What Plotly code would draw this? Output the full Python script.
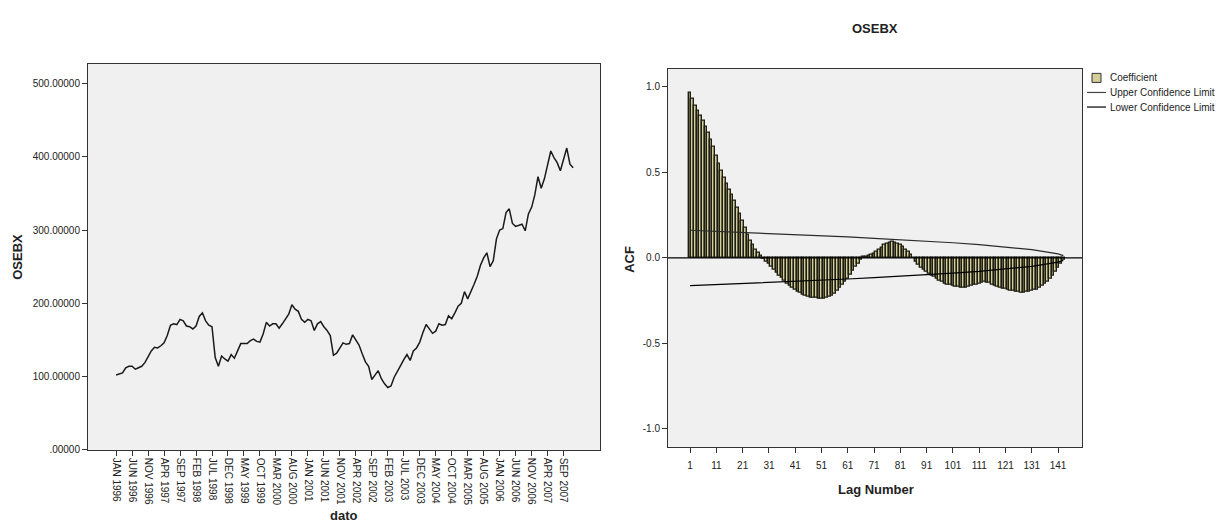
import plotly.graph_objects as go

W, H = 1228, 526
# the photographed page comes out slightly squeezed vertically; compensate
Y_SCALE = 0.9855

# ---------------- data ----------------
# OSEBX monthly values, JAN 1996 .. DEC 2007
osebx = [
    102, 104, 105, 112, 114, 114, 110, 112, 114, 119, 127, 135,
    140, 139, 142, 146, 156, 170, 172, 171, 178, 176, 169, 168,
    165, 169, 182, 187, 176, 170, 168, 126, 114, 128, 124, 121,
    130, 125, 135, 145, 145, 145, 149, 151, 148, 147, 158, 174,
    169, 172, 172, 166, 172, 178, 185, 198, 192, 189, 178, 174,
    178, 176, 163, 172, 175, 168, 163, 156, 129, 132, 139, 146,
    144, 145, 157, 149, 143, 131, 120, 114, 96, 102, 108, 97,
    90, 85, 87, 99, 108, 115, 123, 130, 122, 135, 139, 147,
    160, 171, 165, 159, 162, 172, 170, 171, 183, 179, 187, 196,
    200, 216, 206, 215, 226, 237, 252, 262, 269, 250, 258, 288,
    300, 302, 324, 329, 309, 305, 307, 308, 299, 322, 331, 348,
    373, 357, 370, 388, 408, 399, 392, 381, 397, 412, 390, 385,
]
date_tick_labels = [
    "JAN 1996", "JUN 1996", "NOV 1996", "APR 1997", "SEP 1997", "FEB 1998",
    "JUL 1998", "DEC 1998", "MAY 1999", "OCT 1999", "MAR 2000", "AUG 2000",
    "JAN 2001", "JUN 2001", "NOV 2001", "APR 2002", "SEP 2002", "FEB 2003",
    "JUL 2003", "DEC 2003", "MAY 2004", "OCT 2004", "MAR 2005", "AUG 2005",
    "JAN 2006", "JUN 2006", "NOV 2006", "APR 2007", "SEP 2007",
]
osebx_tick_vals = [0, 100, 200, 300, 400, 500]
osebx_tick_text = [".00000", "100.00000", "200.00000", "300.00000", "400.00000", "500.00000"]

# ACF coefficients, lags 1..143
acf = [
    0.967, 0.931, 0.890, 0.858, 0.830, 0.800, 0.765, 0.729, 0.688, 0.647,
    0.595, 0.550, 0.507, 0.470, 0.432, 0.398, 0.368, 0.334, 0.295, 0.256,
    0.216, 0.177, 0.138, 0.103, 0.076, 0.050, 0.030, 0.011, -0.003, -0.020,
    -0.037, -0.053, -0.070, -0.087, -0.103, -0.118, -0.134, -0.149, -0.161, -0.173,
    -0.184, -0.196, -0.206, -0.213, -0.220, -0.227, -0.231, -0.234, -0.236, -0.238,
    -0.239, -0.237, -0.233, -0.227, -0.220, -0.210, -0.193, -0.175, -0.158, -0.139,
    -0.120, -0.098, -0.074, -0.052, -0.032, -0.012, 0.004, 0.009, 0.014, 0.019,
    0.026, 0.038, 0.050, 0.062, 0.074, 0.083, 0.090, 0.092, 0.090, 0.085,
    0.077, 0.064, 0.050, 0.034, 0.017, 0.000, -0.020, -0.040, -0.055, -0.068,
    -0.080, -0.092, -0.103, -0.113, -0.123, -0.132, -0.141, -0.149, -0.155, -0.160,
    -0.164, -0.168, -0.171, -0.173, -0.173, -0.172, -0.169, -0.165, -0.160, -0.155,
    -0.150, -0.145, -0.142, -0.143, -0.148, -0.155, -0.163, -0.168, -0.173, -0.178,
    -0.183, -0.188, -0.192, -0.195, -0.198, -0.200, -0.202, -0.202, -0.201, -0.198,
    -0.194, -0.189, -0.184, -0.175, -0.165, -0.152, -0.139, -0.122, -0.102, -0.080,
    -0.057, -0.033, -0.012,
]
conf_lags = [1, 11, 21, 31, 41, 51, 61, 71, 81, 91, 101, 111, 121, 131, 141, 143]
upper_conf = [0.162, 0.156, 0.150, 0.144, 0.137, 0.130, 0.123, 0.115, 0.107,
              0.098, 0.089, 0.078, 0.065, 0.049, 0.024, 0.014]
lower_conf = [-0.162, -0.156, -0.150, -0.144, -0.137, -0.130, -0.123, -0.115, -0.107,
              -0.098, -0.089, -0.078, -0.065, -0.049, -0.024, -0.014]
lag_tick_vals = [1, 11, 21, 31, 41, 51, 61, 71, 81, 91, 101, 111, 121, 131, 141]
acf_tick_vals = [1.0, 0.5, 0.0, -0.5, -1.0]
acf_tick_text = ["1.0", "0.5", "0.0", "-0.5", "-1.0"]

# ---------------- figure ----------------
FONT = "Liberation Sans, Arial, sans-serif"
TXT = "#222222"
BAR_FILL = "#d4cf98"

def px(x):
    return x / W

def py(y):
    yd = (y + 0.5) / Y_SCALE
    return 1 - yd / H

fig = go.Figure()

month_index = list(range(len(osebx)))
fig.add_trace(go.Scatter(
    x=month_index, y=osebx, mode="lines",
    line=dict(color="#1a1a1a", width=1.5),
    xaxis="x", yaxis="y", showlegend=False, hoverinfo="skip",
))

lags = list(range(1, len(acf) + 1))
fig.add_trace(go.Bar(
    x=lags, y=acf, marker=dict(color=BAR_FILL, line=dict(color="#1e1e14", width=1.4)),
    xaxis="x2", yaxis="y2", showlegend=False, hoverinfo="skip",
))
fig.add_trace(go.Scatter(
    x=conf_lags, y=upper_conf, mode="lines", line=dict(color="#2b2b2b", width=1.2),
    xaxis="x2", yaxis="y2", showlegend=False, hoverinfo="skip",
))
fig.add_trace(go.Scatter(
    x=conf_lags, y=lower_conf, mode="lines", line=dict(color="#000000", width=1.2),
    xaxis="x2", yaxis="y2", showlegend=False, hoverinfo="skip",
))

axis_common = dict(showgrid=False, showline=True, mirror=True, linecolor="#333333",
                   linewidth=1, ticks="outside", ticklen=5, tickcolor="#333333",
                   tickfont=dict(family=FONT, size=10, color=TXT), zeroline=False)

fig.update_layout(
    width=W, height=H,
    margin=dict(l=0, r=0, t=0, b=0),
    paper_bgcolor="white",
    plot_bgcolor="#f0f0f0",
    bargap=0,
    font=dict(family=FONT, color=TXT),
    xaxis=dict(domain=[px(88), px(600)], range=[-8.8, 151.4],
               tickvals=[i * 5 for i in range(len(date_tick_labels))],
               ticktext=date_tick_labels, tickangle=90, **axis_common),
    yaxis=dict(domain=[py(447), py(63)], range=[0, 527],
               tickvals=osebx_tick_vals, ticktext=osebx_tick_text, **axis_common),
    xaxis2=dict(domain=[px(668), px(1082)], range=[-7.4, 150.1],
                tickvals=lag_tick_vals, anchor="y2", ticklabelstandoff=4, **axis_common),
    yaxis2=dict(domain=[py(444), py(68)], range=[-1.104, 1.106],
                tickvals=acf_tick_vals, ticktext=acf_tick_text, anchor="x2",
                **axis_common),
)

# zero line of the ACF panel
fig.add_shape(type="line", xref="x2 domain", yref="y2", x0=0, x1=1, y0=0, y1=0,
              line=dict(color="#000000", width=1.2))

# titles
def label(text, x, y, angle=0, size=13, xanchor="center"):
    return dict(text=text, x=px(x), y=py(y), xref="paper", yref="paper",
                xanchor=xanchor, yanchor="middle", textangle=angle, showarrow=False,
                font=dict(size=size, family=FONT, color=TXT))

ann = [
    label("<b>OSEBX</b>", 875, 28),
    label("<b>OSEBX</b>", 18, 255, angle=-90),
    label("<b>dato</b>", 344, 512),
    label("<b>ACF</b>", 630, 258, angle=-90),
    label("<b>Lag Number</b>", 876, 487),
]

# custom legend
legend_items = ["Coefficient", "Upper Confidence Limit", "Lower Confidence Limit"]
legend_y = [76.5, 91.5, 106]
for text, yy in zip(legend_items, legend_y):
    ann.append(label(text, 1108, yy, size=10, xanchor="left"))
fig.add_shape(type="rect", xref="paper", yref="paper",
              x0=px(1092), x1=px(1101), y0=py(81.5), y1=py(72.5),
              fillcolor=BAR_FILL, line=dict(color="#333333", width=1))
fig.add_shape(type="line", xref="paper", yref="paper",
              x0=px(1087), x1=px(1106), y0=py(91.5), y1=py(91.5),
              line=dict(color="#444444", width=1.2))
fig.add_shape(type="line", xref="paper", yref="paper",
              x0=px(1087), x1=px(1106), y0=py(106), y1=py(106),
              line=dict(color="#000000", width=1.2))

fig.update_layout(annotations=ann)

fig.write_html(
    "out.html",
    config={"displayModeBar": False},
    post_script=("document.body.style.margin='0';"
                 "document.body.style.overflow='hidden';"
                 "document.documentElement.style.overflow='hidden';"),
)
